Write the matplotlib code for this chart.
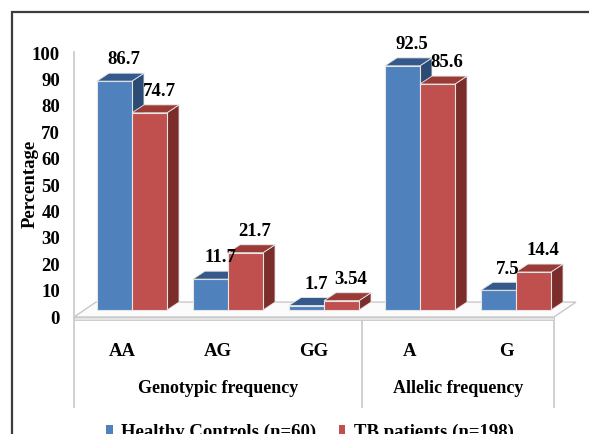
import matplotlib
matplotlib.use("Agg")
import matplotlib.pyplot as plt
from matplotlib.patches import Polygon, Rectangle, Patch

plt.rcParams['font.family'] = ['Liberation Serif', 'DejaVu Serif']
plt.rcParams['font.weight'] = 'bold'

categories = ['AA', 'AG', 'GG', 'A', 'G']
healthy = [86.7, 11.7, 1.7, 92.5, 7.5]
tb_patients = [74.7, 21.7, 3.54, 85.6, 14.4]
series_names = ['Healthy Controls (n=60)', 'TB patients (n=198)']
groups = ['Genotypic frequency', 'Allelic frequency']

# pseudo-3D geometry (category units / percent units)
BAR_W = 0.365
SHIFT_X = 0.104      # bars sit back from the front edge of the floor
BASE = 2.65
DEPTH_X = 0.125
DEPTH_Y = 3.0

colors = {
    'blue': ('#4F81BD', '#34598A', '#2B4B73'),
    'red': ('#C0504D', '#9A3B38', '#7A2D2B'),
}


def bar3d(ax, x0, h, palette, z):
    front, top, side = palette
    b = BASE
    x1 = x0 + BAR_W
    ax.add_patch(Polygon([(x1, b), (x1 + DEPTH_X, b + DEPTH_Y),
                          (x1 + DEPTH_X, b + h + DEPTH_Y), (x1, b + h)],
                         closed=True, facecolor=side, edgecolor='#e6e6e6',
                         lw=0.6, zorder=z, clip_on=False))
    ax.bar(x0, h, width=BAR_W, bottom=b, align='edge', color=front,
           edgecolor='#e6e6e6', linewidth=0.8, zorder=z)
    ax.add_patch(Polygon([(x0, b + h), (x1, b + h), (x1 + DEPTH_X, b + h + DEPTH_Y),
                          (x0 + DEPTH_X, b + h + DEPTH_Y)],
                         closed=True, facecolor=top, edgecolor='#e6e6e6',
                         lw=0.6, zorder=z, clip_on=False))


fig = plt.figure(figsize=(5.89, 4.34), dpi=100)
ax = fig.add_axes([74 / 589, 117 / 434, 480 / 589, 264 / 434])
ax.set_xlim(-0.5, len(categories) - 0.5)
ax.set_ylim(0, 100)
for s in ax.spines.values():
    s.set_visible(False)

# outer frame
fig.patches.append(Rectangle((12 / 589, -0.1), 1.2, 1 - 12 / 434 + 0.1,
                             transform=fig.transFigure, fill=False,
                             edgecolor='#3c3c3c', lw=1.6))

# floor
n = len(categories)
fdx, fdy = SHIFT_X + DEPTH_X, BASE + DEPTH_Y
ax.add_patch(Polygon([(-0.5, 0), (n - 0.5, 0), (n - 0.5 + fdx, fdy), (-0.5 + fdx, fdy)],
                     closed=True, facecolor='#fbfbfb', edgecolor='#c8c8c8',
                     lw=1.0, zorder=1, clip_on=False))
ax.add_patch(Polygon([(-0.5, 0), (n - 0.5, 0), (n - 0.5, -1.0), (-0.5, -1.0)],
                     closed=True, facecolor='#e4e4e4', edgecolor='#c8c8c8',
                     lw=0.6, zorder=1, clip_on=False))

# axis line and group dividers
ax.plot([-0.5, -0.5], [100.5, -34], color='#c8c8c8', lw=1.2, zorder=0, clip_on=False)
for xd in [2.5, 4.5]:
    ax.plot([xd, xd], [-1, -34], color='#c8c8c8', lw=1.2, zorder=0, clip_on=False)

for i in range(n):
    xb = i + SHIFT_X - BAR_W
    bar3d(ax, xb, healthy[i], colors['blue'], 3 + 2 * i)
    bar3d(ax, xb + BAR_W, tb_patients[i], colors['red'], 4 + 2 * i)
    for x0, v in [(xb, healthy[i]), (xb + BAR_W, tb_patients[i])]:
        ax.text(x0 + BAR_W / 2 + 0.1, BASE + v + DEPTH_Y + 5.0, f'{v:g}',
                ha='center', va='center', fontsize=13.5, fontweight='bold',
                zorder=20, clip_on=False)

ax.set_yticks(range(0, 101, 10))
ax.set_xticks(range(n), categories)
ax.tick_params(axis='y', length=0, pad=10, labelsize=13.5)
ax.tick_params(axis='x', length=0, pad=19, labelsize=13.5)

ax.text(1.0, -27, groups[0], ha='center', va='center', fontsize=13, fontweight='bold')
ax.text(3.5, -27, groups[1], ha='center', va='center', fontsize=13, fontweight='bold')

fig.text(30 / 589, 1 - 184 / 434, 'Percentage', rotation=90, ha='center', va='center',
         fontsize=13.5, fontweight='bold')

handles = [Patch(facecolor=colors['blue'][0]), Patch(facecolor=colors['red'][0])]
fig.legend(handles, series_names, loc='center left', bbox_to_anchor=(106 / 589, 2 / 434),
           ncol=2, frameon=False, fontsize=13.5, handlelength=0.35, handleheight=0.35,
           handletextpad=0.45, columnspacing=1.2, borderpad=0, borderaxespad=0)

fig.savefig('out.png', dpi=100)
